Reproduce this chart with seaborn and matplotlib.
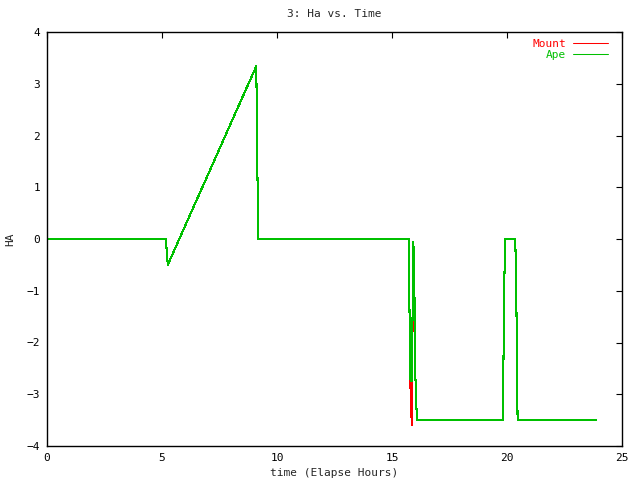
import matplotlib
matplotlib.use("Agg")
import matplotlib.pyplot as plt
import seaborn as sns
import pandas as pd

# Data (time in elapsed hours, HA)
mount_t = [0.0, 5.17, 5.20, 5.25, 9.10, 9.12, 9.16, 9.19, 15.74, 15.75, 15.79, 15.86, 15.87,
           15.93, 15.96, 15.98, 16.02, 16.06, 16.10, 19.83, 19.84, 19.88, 19.92, 20.36, 20.40,
           20.44, 20.46, 23.87]
mount_ha = [0.0, 0.0, -0.20, -0.50, 3.34, 2.49, 0.84, 0.0, 0.0, -0.90, -2.70, -3.60, -2.70,
            -0.06, -0.70, -1.20, -2.70, -3.25, -3.50, -3.50, -2.63, -0.90, 0.0, 0.0, -0.90,
            -2.63, -3.50, -3.50]
ape_t = [0.0, 5.17, 5.20, 5.25, 9.10, 9.12, 9.16, 9.19, 15.74, 15.75, 15.79, 15.86,
         15.93, 15.96, 15.98, 16.02, 16.06, 16.10, 19.83, 19.84, 19.88, 19.92, 20.36, 20.40,
         20.44, 20.46, 23.87]
ape_ha = [0.0, 0.0, -0.20, -0.50, 3.34, 2.49, 0.84, 0.0, 0.0, -0.90, -2.70, -2.75,
          -0.06, -0.70, -1.20, -2.70, -3.25, -3.50, -3.50, -2.63, -0.90, 0.0, 0.0, -0.90,
          -2.63, -3.50, -3.50]
x_ticks = [0, 5, 10, 15, 20, 25]
y_ticks = [-4, -3, -2, -1, 0, 1, 2, 3, 4]

sns.set_style("white")
plt.rcParams['font.family'] = ['DejaVu Sans Mono', 'DejaVu Sans']

fig = plt.figure(figsize=(6.4, 4.8), dpi=100)
ax = fig.add_axes([47/640, 1-446/480, 575/640, 414/480])

mount = pd.DataFrame({"t": mount_t, "ha": mount_ha})
ape = pd.DataFrame({"t": ape_t, "ha": ape_ha})
sns.lineplot(data=mount, x="t", y="ha", sort=False, estimator=None, color="#ff0000",
             lw=0.75, ax=ax, label="Mount", antialiased=False)
sns.lineplot(data=ape, x="t", y="ha", sort=False, estimator=None, color="#00c000",
             lw=0.75, ax=ax, label="Ape", antialiased=False)

ax.set_xlim(0, 25)
ax.set_ylim(-4, 4)
ax.set_xticks(x_ticks)
ax.set_yticks(y_ticks)
ax.tick_params(direction="in", length=4, width=0.8, top=True, right=True,
               labelsize=8, colors="black", pad=5)
for s in ax.spines.values():
    s.set_color("black")
    s.set_linewidth(1.0)

ax.set_title("3: Ha vs. Time", fontsize=8, pad=11)
ax.set_xlabel("time (Elapse Hours)", fontsize=8, labelpad=4)
ax.set_ylabel("HA", fontsize=8, labelpad=8)

leg = ax.legend(loc="upper right", frameon=False, markerfirst=False, fontsize=8,
                labelcolor="linecolor", handlelength=3.2, borderaxespad=0.2,
                labelspacing=0.1, handletextpad=0.6,
                bbox_to_anchor=(0.988, 1.0))

fig.savefig("out.png", dpi=100)
